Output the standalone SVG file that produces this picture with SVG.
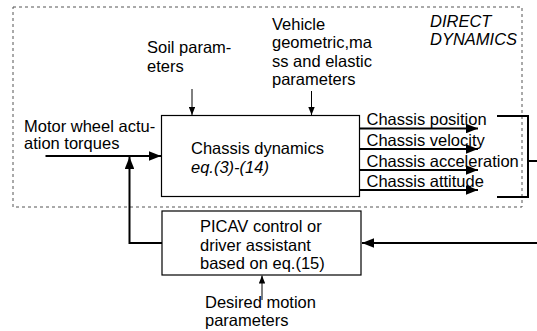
<svg xmlns="http://www.w3.org/2000/svg" width="537" height="331" viewBox="0 0 537 331">
<defs>
<style>
text{font-family:"Liberation Sans",Arial,sans-serif;font-size:16.5px;fill:#000}
.it{font-style:italic}
.box{fill:#fff;stroke:#000;stroke-width:1.2}
.thick{stroke:#000;stroke-width:2;fill:none}
.thin{stroke:#000;stroke-width:1;fill:none}
.dash{fill:none;stroke:#555;stroke-width:1;stroke-dasharray:3,3}
</style>
<marker id="ah" viewBox="0 0 10 8" refX="10" refY="4" markerWidth="6" markerHeight="4.8" markerUnits="strokeWidth" orient="auto">
<path d="M0,0 L10,4 L0,8 z" fill="#000"/>
</marker>
<marker id="ahs" viewBox="0 0 10 8" refX="10" refY="4" markerWidth="8" markerHeight="6.4" markerUnits="strokeWidth" orient="auto">
<path d="M0,0 L10,4 L0,8 z" fill="#000"/>
</marker>
</defs>
<rect class="dash" x="13" y="7" width="509" height="200"/>
<g id="direct-label">
<text class="it" x="430" y="26.5">DIRECT</text>
<text class="it" x="430" y="45">DYNAMICS</text>
</g>
<g id="soil">
<text x="147" y="53">Soil param-</text>
<text x="147" y="71.5">eters</text>
</g>
<g id="vehicle">
<text x="272" y="29.5">Vehicle</text>
<text x="272" y="48">geometric,ma</text>
<text x="272" y="66.5">ss and elastic</text>
<text x="272" y="85">parameters</text>
</g>
<g id="motor">
<text x="24" y="131.5">Motor wheel actu-</text>
<text x="24" y="149">ation torques</text>
</g>
<g id="chassis">
<rect class="box" x="161.5" y="115.5" width="198" height="81"/>
<text x="191" y="153.5">Chassis dynamics</text>
<text class="it" x="191" y="172.5">eq.(3)-(14)</text>
</g>
<g id="outputs">
<text x="366.5" y="124.5">Chassis position</text>
<text x="366.5" y="145.5">Chassis velocity</text>
<text x="366.5" y="166.5">Chassis acceleration</text>
<text x="366.5" y="187">Chassis attitude</text>
</g>
<g id="picav">
<rect class="box" x="162" y="211" width="199" height="64"/>
<text x="200" y="232">PICAV control or</text>
<text x="200" y="250.5">driver assistant</text>
<text x="200" y="269">based on eq.(15)</text>
</g>
<g id="desired">
<text x="205" y="308">Desired motion</text>
<text x="205" y="325.5">parameters</text>
</g>
<g id="connectors">
<line class="thin" x1="192" y1="89" x2="192" y2="115" marker-end="url(#ahs)"/>
<line class="thin" x1="311.5" y1="91" x2="311.5" y2="115" marker-end="url(#ahs)"/>
<line class="thick" x1="45.5" y1="156" x2="161" y2="156" marker-end="url(#ah)"/>
<polyline class="thick" points="162,243 129.5,243 129.5,157" marker-end="url(#ah)"/>
<line class="thick" x1="537" y1="243" x2="362" y2="243" marker-end="url(#ah)"/>
<line class="thin" x1="262" y1="300" x2="262" y2="275.5" marker-end="url(#ahs)"/>
<line class="thick" x1="360" y1="128.5" x2="478" y2="128.5" marker-end="url(#ah)"/>
<line class="thick" x1="360" y1="149" x2="478" y2="149" marker-end="url(#ah)"/>
<line class="thick" x1="360" y1="170" x2="478" y2="170" marker-end="url(#ah)"/>
<line class="thick" x1="360" y1="190" x2="478" y2="190" marker-end="url(#ah)"/>
<polyline class="thick" points="497,116 528,116 528,197 497,197"/>
<line class="thick" x1="528" y1="161" x2="537" y2="161"/>
</g>
</svg>
